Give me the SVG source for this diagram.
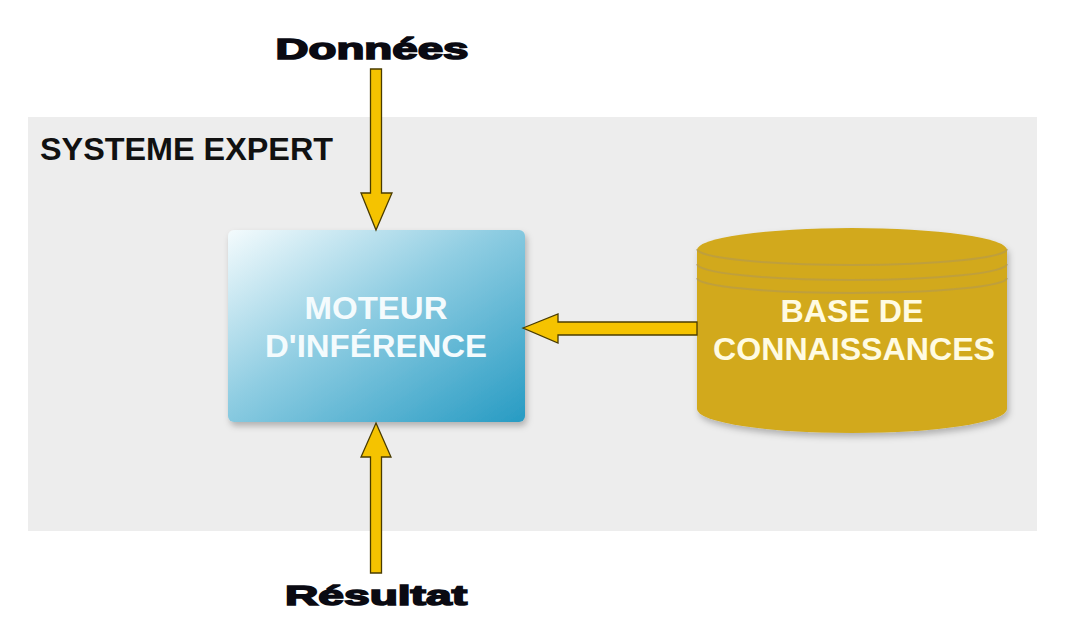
<svg xmlns="http://www.w3.org/2000/svg" width="1072" height="620" viewBox="0 0 1072 620">
<style>
.lbl{font-family:"Liberation Sans",Arial,sans-serif;font-weight:bold;fill:#0a0a12;stroke:#0a0a12;stroke-width:1.6;text-anchor:middle}
.title{font-family:"Liberation Sans",Arial,sans-serif;font-weight:bold;fill:#111;font-size:32px}
.node{font-family:"Liberation Sans",Arial,sans-serif;font-weight:bold;font-size:31px;text-anchor:middle}
.arrow{fill:#F5C300;stroke:#4a3c00;stroke-width:1.3;stroke-linejoin:miter}
.ring{fill:none;stroke:#B39A52;stroke-width:2;opacity:0.6}
</style>
<defs>
<linearGradient id="gBox" x1="0" y1="0" x2="1" y2="1">
<stop offset="0" stop-color="#F4FBFD"/>
<stop offset="0.45" stop-color="#8FCDE2"/>
<stop offset="1" stop-color="#279BC3"/>
</linearGradient>
<filter id="sh" x="-10%" y="-10%" width="125%" height="130%">
<feDropShadow dx="2" dy="4" stdDeviation="3" flood-color="#000" flood-opacity="0.25"/>
</filter>
</defs>
<rect width="1072" height="620" fill="#fff"/>
<g id="panel">
<rect x="28" y="117" width="1009" height="414" fill="#EDEDED"/>
<text class="title" x="40" y="160" textLength="293" lengthAdjust="spacingAndGlyphs">SYSTEME EXPERT</text>
</g>
<g id="moteur">
<rect x="228" y="230" width="297" height="192" rx="6" fill="url(#gBox)" filter="url(#sh)"/>
<text class="node" x="376" y="319" fill="#F4FBFD" textLength="143" lengthAdjust="spacingAndGlyphs">MOTEUR</text>
<text class="node" x="376" y="357" fill="#F4FBFD" textLength="222" lengthAdjust="spacingAndGlyphs">D'INFÉRENCE</text>
</g>
<g id="base">
<path d="M697,250 L697,409 A155,24 0 0 0 1007,409 L1007,250 A155,22 0 0 0 697,250 Z" fill="#D2A91B" filter="url(#sh)"/>
<path class="ring" d="M697,249 A155,16 0 0 0 1007,249"/>
<path class="ring" d="M697,264 A155,16 0 0 0 1007,264"/>
<path class="ring" d="M697,278 A155,15 0 0 0 1007,278"/>
<text class="node" x="852" y="322" fill="#FFFBE2" textLength="143" lengthAdjust="spacingAndGlyphs">BASE DE</text>
<text class="node" x="854" y="360" fill="#FFFBE2" textLength="282" lengthAdjust="spacingAndGlyphs">CONNAISSANCES</text>
</g>
<g id="donnees">
<text class="lbl" x="372" y="59" font-size="29" textLength="193" lengthAdjust="spacingAndGlyphs">Données</text>
</g>
<g id="resultat">
<text class="lbl" x="376" y="605" font-size="28" textLength="182" lengthAdjust="spacingAndGlyphs">Résultat</text>
</g>
<g id="connectors">
<polygon class="arrow" points="370.5,69 381.5,69 381.5,193 392,193 376,230 361,193 370.5,193"/>
<polygon class="arrow" points="376,423 391,457 381.5,457 381.5,573 370.5,573 370.5,457 361,457"/>
<polygon class="arrow" points="523,328 558,314 558,322 697,322 697,335 558,335 558,343"/>
</g>
</svg>
